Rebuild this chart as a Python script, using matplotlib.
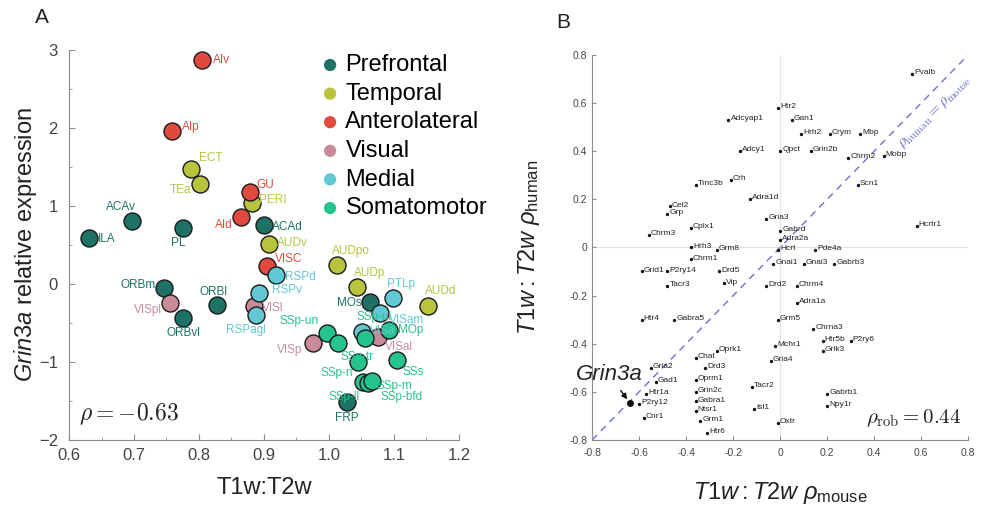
import matplotlib
matplotlib.use("Agg")
import matplotlib.pyplot as plt
from matplotlib.ticker import MultipleLocator

plt.rcParams['font.family'] = ['Liberation Sans', 'DejaVu Sans']
plt.rcParams['mathtext.fontset'] = 'custom'
plt.rcParams['mathtext.rm'] = 'Liberation Sans'
plt.rcParams['mathtext.it'] = 'Liberation Sans:italic'
plt.rcParams['mathtext.bf'] = 'Liberation Sans:bold'

# ---------------- Panel A data: cortical areas ----------------
groups = ["Prefrontal", "Temporal", "Anterolateral", "Visual", "Medial", "Somatomotor"]
group_colors = ["#1d7265", "#b7c43c", "#e04a3e", "#c98b99", "#62c8d3", "#25c38e"]

area_names = ["ILA", "ACAv", "PL", "ACAd", "ORBm", "ORBl", "ORBvl", "MOs", "FRP",
              "ECT", "TEa", "PERI", "AUDv", "AUDpo", "AUDp", "AUDd",
              "AIv", "AIp", "GU", "AId", "VISC",
              "VISpl", "VISl", "VISp", "VISal",
              "RSPd", "RSPv", "RSPagl", "PTLp", "VISam", "VISa",
              "SSp-un", "SSp-tr", "SSp-ul", "MOp", "SSp-n", "SSs", "SSp-ll", "SSp-m", "SSp-bfd"]
area_group = [0, 0, 0, 0, 0, 0, 0, 0, 0,
              1, 1, 1, 1, 1, 1, 1,
              2, 2, 2, 2, 2,
              3, 3, 3, 3,
              4, 4, 4, 4, 4, 4,
              5, 5, 5, 5, 5, 5, 5, 5, 5]
t1t2 = [0.631, 0.697, 0.776, 0.900, 0.746, 0.828, 0.776, 1.063, 1.028,
        0.787, 0.801, 0.882, 0.907, 1.013, 1.043, 1.152,
        0.804, 0.759, 0.878, 0.864, 0.904,
        0.756, 0.884, 0.976, 1.075,
        0.919, 0.893, 0.887, 1.098, 1.079, 1.051,
        0.997, 1.014, 1.056, 1.092, 1.045, 1.105, 1.052, 1.060, 1.066]
grin3a = [0.59, 0.81, 0.72, 0.76, -0.05, -0.27, -0.44, -0.23, -1.51,
          1.47, 1.28, 1.04, 0.51, 0.24, -0.04, -0.29,
          2.87, 1.96, 1.18, 0.86, 0.23,
          -0.24, -0.28, -0.76, -0.68,
          0.12, -0.12, -0.40, -0.18, -0.37, -0.62,
          -0.63, -0.76, -0.69, -0.59, -1.00, -0.97, -1.26, -1.27, -1.24]
rho_a = -0.63

# label offsets in points (dx, dy, horizontal alignment)
area_label_offsets = {
    "ILA": (6, -1, "left"), "ACAv": (-8, 10, "center"), "PL": (-4, -11, "center"),
    "ACAd": (6, -2, "left"), "ORBm": (-6, 2, "right"), "ORBl": (-3, 9, "center"),
    "ORBvl": (0, -11, "center"), "MOs": (-6, -1, "right"), "FRP": (0, -12, "center"),
    "ECT": (6, 8, "left"), "TEa": (-6, -4, "right"), "PERI": (5, 2, "left"),
    "AUDv": (6, 1, "left"), "AUDpo": (-4, 10, "left"), "AUDp": (-2, 10, "left"),
    "AUDd": (-2, 11, "left"), "AIv": (8, 0, "left"), "AIp": (7, 3, "left"),
    "GU": (5, 5, "left"), "AId": (-6, -6, "right"), "VISC": (6, 5, "left"),
    "VISpl": (-6, -5, "right"), "VISl": (6, -2, "left"), "VISp": (-8, -5, "right"),
    "VISal": (5, -7, "left"), "RSPd": (6, -2, "left"), "RSPv": (9, 2, "left"),
    "RSPagl": (-7, -11, "center"), "PTLp": (-4, 10, "left"), "VISam": (6, -5, "left"),
    "VISa": (6, 1, "left"), "SSp-un": (-6, 9, "right"), "SSp-tr": (2, -10, "left"),
    "SSp-ul": (-6, 15, "left"), "MOp": (7, 0, "left"), "SSp-n": (-4, -8, "right"),
    "SSs": (4, -9, "left"), "SSp-ll": (-2, -11, "right"), "SSp-m": (6, -2, "left"),
    "SSp-bfd": (6, -12, "left"),
}

# ---------------- Panel B data: genes ----------------
gene_names = ["Pvalb", "Htr2", "Gan1", "Adcyap1", "Hrh2", "Crym", "Mbp", "Adcy1", "Qpct",
              "Grin2b", "Chrm2", "Mobp", "Scn1", "Crh", "Tmc3b", "Adra1d", "Cel2", "Grp",
              "Cplx1", "Gria3", "Chrm3", "Hcrtr1", "Gabrd", "Adra2a", "Hcrt", "Pde4a",
              "Hrh3", "Grm8", "Chrm1", "Gnai1", "Gnai3", "Gabrb3", "Grid1", "P2ry14",
              "Tacr3", "Drd5", "Vip", "Drd2", "Chrm4", "Adra1a", "Htr4", "Gabra5", "Grm5",
              "Chrna3", "Htr5b", "P2ry6", "Grik3", "Mchr1", "Oprk1", "Gria4", "Chat",
              "Drd3", "Gria2", "Gad1", "Oprm1", "Htr1a", "P2ry12", "Grin2c", "Gabra1",
              "Ntsr1", "Grm1", "Cnr1", "Htr6", "Tacr2", "Isl1", "Oxtr", "Gabrb1", "Npy1r"]
rho_mouse = [0.56, -0.01, 0.05, -0.22, 0.09, 0.21, 0.34, -0.17, 0.00,
             0.13, 0.29, 0.44, 0.33, -0.21, -0.36, -0.13, -0.47, -0.48,
             -0.38, -0.06, -0.56, 0.58, 0.00, 0.00, -0.01, 0.15,
             -0.38, -0.27, -0.38, -0.03, 0.10, 0.23, -0.59, -0.48,
             -0.48, -0.26, -0.24, -0.06, 0.07, 0.07, -0.59, -0.45, -0.01,
             0.14, 0.18, 0.30, 0.18, -0.02, -0.27, -0.04, -0.36,
             -0.32, -0.55, -0.53, -0.36, -0.57, -0.60, -0.36, -0.36,
             -0.36, -0.34, -0.58, -0.31, -0.12, -0.11, -0.01, 0.20, 0.20]
rho_human = [0.72, 0.58, 0.53, 0.53, 0.47, 0.47, 0.47, 0.40, 0.40,
             0.40, 0.37, 0.38, 0.26, 0.28, 0.26, 0.20, 0.17, 0.14,
             0.08, 0.12, 0.05, 0.09, 0.07, 0.03, -0.01, -0.01,
             0.00, -0.01, -0.05, -0.07, -0.07, -0.07, -0.10, -0.10,
             -0.16, -0.10, -0.15, -0.16, -0.16, -0.23, -0.30, -0.30, -0.30,
             -0.34, -0.39, -0.39, -0.43, -0.41, -0.43, -0.47, -0.46,
             -0.50, -0.50, -0.56, -0.55, -0.61, -0.65, -0.60, -0.64,
             -0.68, -0.72, -0.71, -0.77, -0.58, -0.67, -0.73, -0.61, -0.66]
highlight_gene = "Grin3a"
highlight_xy = (-0.64, -0.645)
rho_b = 0.44

# ---------------- Figure ----------------
fig = plt.figure(figsize=(9.82, 5.08), dpi=100)
spine_col = "#8c8c8c"
tick_col = "#444444"
text_col = "#222222"

# Panel A
axA = fig.add_axes([0.0703, 0.134, 0.397, 0.768])
for g in range(len(groups)):
    xs = [x for x, gi in zip(t1t2, area_group) if gi == g]
    ys = [y for y, gi in zip(grin3a, area_group) if gi == g]
    axA.scatter(xs, ys, s=150, color=group_colors[g], edgecolors="#1a1a1a",
                linewidths=1.0, zorder=3, label=groups[g])
for name, x, y, g in zip(area_names, t1t2, grin3a, area_group):
    dx, dy, ha = area_label_offsets[name]
    axA.annotate(name, (x, y), xytext=(dx, dy), textcoords="offset points",
                 ha=ha, va="center", fontsize=8.5, color=group_colors[g], zorder=4)
axA.set_xlim(0.6, 1.2)
axA.set_ylim(-2, 3)
axA.xaxis.set_major_locator(MultipleLocator(0.1))
axA.xaxis.set_minor_locator(MultipleLocator(0.05))
axA.yaxis.set_major_locator(MultipleLocator(1))
axA.yaxis.set_minor_locator(MultipleLocator(0.5))
axA.set_xticklabels([f"{v:.1f}" for v in axA.get_xticks()])
for s in ["top", "right"]:
    axA.spines[s].set_visible(False)
for s in ["left", "bottom"]:
    axA.spines[s].set_color(spine_col)
axA.tick_params(which="both", direction="in", color=spine_col, labelcolor=tick_col,
                labelsize=12)
axA.tick_params(which="major", length=4)
axA.tick_params(which="minor", length=2)
axA.tick_params(axis="y", which="major", pad=8)
axA.tick_params(axis="x", which="major", pad=6)
axA.set_xlabel("T1w:T2w", fontsize=17, color=text_col, labelpad=10)
axA.set_ylabel(r"$\mathit{Grin3a}$ relative expression", fontsize=17, color=text_col,
               labelpad=0)
axA.text(0.615, -1.75, rf"$\rho = {rho_a:.2f}$", fontsize=17, color=text_col,
         math_fontfamily="cm")
leg = axA.legend(loc="upper left", bbox_to_anchor=(0.603, 1.025), frameon=False,
                 fontsize=17, handlelength=1.0, handletextpad=0.15, labelspacing=0.28,
                 scatterpoints=1, markerscale=0.72, borderaxespad=0.2)
for h in leg.legend_handles:
    h.set_edgecolor("none")
fig.text(0.036, 0.955, "A", fontsize=15, color=text_col)

# Panel B
axB = fig.add_axes([0.603, 0.134, 0.383, 0.758])
axB.axhline(0, color="#e3e3e3", lw=0.8, zorder=0)
axB.axvline(0, color="#e3e3e3", lw=0.8, zorder=0)
axB.plot([-0.8, 0.8], [-0.8, 0.8], ls=(0, (5, 4)), color="#6e6fd0", lw=1.0, zorder=1)
axB.scatter(rho_mouse, rho_human, s=2, color="#111111", zorder=3)
for name, x, y in zip(gene_names, rho_mouse, rho_human):
    axB.annotate(name, (x, y), xytext=(1.5, 1), textcoords="offset points",
                 ha="left", va="center", fontsize=6, color=text_col, zorder=4)
axB.scatter([highlight_xy[0]], [highlight_xy[1]], s=16, color="#111111", zorder=5)
axB.annotate(highlight_gene, highlight_xy, xytext=(-0.87, -0.53), textcoords="data",
             fontsize=16, style="italic", color=text_col, ha="left", va="center",
             arrowprops=dict(arrowstyle="-|>", color="#111111", lw=1.0,
                             shrinkA=2, shrinkB=3, mutation_scale=8))
axB.text(0.66, 0.56, r"$\rho_{\mathrm{human}} = \rho_{\mathrm{mouse}}$", color="#6e6fd0",
         fontsize=11, rotation=45, rotation_mode="anchor", ha="center", va="center",
         math_fontfamily="cm")
axB.text(0.77, -0.73, rf"$\rho_{{\mathrm{{rob}}}} = {rho_b:.2f}$", fontsize=15,
         ha="right", color=text_col, math_fontfamily="cm")
axB.set_xlim(-0.8, 0.8)
axB.set_ylim(-0.8, 0.8)
axB.xaxis.set_major_locator(MultipleLocator(0.2))
axB.yaxis.set_major_locator(MultipleLocator(0.2))
axB.set_xticklabels([("0" if abs(v) < 1e-9 else f"{v:.1f}") for v in axB.get_xticks()])
axB.set_yticklabels([("0" if abs(v) < 1e-9 else f"{v:.1f}") for v in axB.get_yticks()])
for s in ["top", "right"]:
    axB.spines[s].set_visible(False)
for s in ["left", "bottom"]:
    axB.spines[s].set_color(spine_col)
axB.tick_params(which="both", direction="in", color=spine_col, labelcolor=tick_col,
                labelsize=7.5, length=3)
axB.tick_params(axis="x", pad=6)
axB.set_xlabel(r"$\mathit{T1w{:}T2w}\ \mathit{\rho}_{\mathrm{mouse}}$", fontsize=17,
               color=text_col, labelpad=16)
axB.set_ylabel(r"$\mathit{T1w{:}T2w}\ \mathit{\rho}_{\mathrm{human}}$", fontsize=17,
               color=text_col, labelpad=20)
fig.text(0.566, 0.945, "B", fontsize=15, color=text_col)

fig.savefig("out.png", dpi=100)
